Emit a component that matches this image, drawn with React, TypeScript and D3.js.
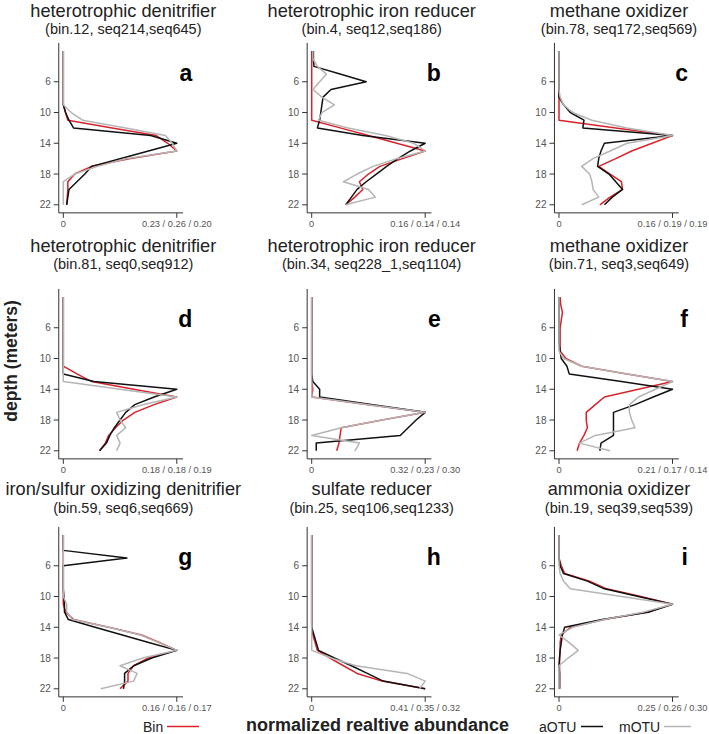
import React from "react";
import * as d3 from "d3";

// sampling depths (m)
const depths = [2, 3, 4, 5, 6, 7, 8, 9, 10, 11, 12, 13, 14, 15, 16, 17, 18, 19, 20, 21, 22];

const panelTitles = [
  "heterotrophic denitrifier",
  "heterotrophic iron reducer",
  "methane oxidizer",
  "heterotrophic denitrifier",
  "heterotrophic iron reducer",
  "methane oxidizer",
  "iron/sulfur oxidizing denitrifier",
  "sulfate reducer",
  "ammonia oxidizer",
];
const panelSubtitles = [
  "(bin.12, seq214,seq645)",
  "(bin.4, seq12,seq186)",
  "(bin.78, seq172,seq569)",
  "(bin.81, seq0,seq912)",
  "(bin.34, seq228_1,seq1104)",
  "(bin.71, seq3,seq649)",
  "(bin.59, seq6,seq669)",
  "(bin.25, seq106,seq1233)",
  "(bin.19, seq39,seq539)",
];
const panelLetters = ["a", "b", "c", "d", "e", "f", "g", "h", "i"];
const maxLabels = [
  "0.23 / 0.26 / 0.20",
  "0.16 / 0.14 / 0.14",
  "0.16 / 0.19 / 0.19",
  "0.18 / 0.18 / 0.19",
  "0.32 / 0.23 / 0.30",
  "0.21 / 0.17 / 0.14",
  "0.16 / 0.16 / 0.17",
  "0.41 / 0.35 / 0.32",
  "0.25 / 0.26 / 0.30",
];
const depthTicks = [6, 10, 14, 18, 22];

// abundance relative to each series' maximum, one value per depth
const binProfiles = [
  [0, 0, 0, 0, 0, 0, 0, 0, 0.02, 0.04, 0.43, 0.82, 0.92, 1, 0.58, 0.25, 0.1, 0.04, 0.04, 0.035, 0.03],
  [0, 0, 0, 0, 0, 0, 0, 0, 0, 0, 0.25, 0.5, 0.75, 1, 0.8, 0.6, 0.5, 0.42, 0.45, 0.38, 0.3],
  [0, 0, 0, 0, 0, 0, 0, 0, 0, 0, 0.5, 1, 0.82, 0.64, 0.5, 0.35, 0.45, 0.55, 0.56, 0.45, 0.36],
  [0, 0, 0, 0, 0, 0, 0, 0, 0, 0, 0.12, 0.25, 0.62, 1, 0.8, 0.63, 0.53, 0.46, 0.4, 0.37, 0.32],
  [0, 0, 0, 0, 0, 0, 0, 0, 0, 0, 0, 0, 0.01, 0, 0.5, 1, 0.62, 0.26, 0.25, 0.24, 0.22],
  [0.01, 0.015, 0.03, 0.02, 0.01, 0.01, 0.01, 0.01, 0.06, 0.2, 0.6, 1, 0.7, 0.4, 0.32, 0.24, 0.24, 0.25, 0.22, 0.18, 0.16],
  [0, 0, 0, 0, 0, 0, 0, 0, 0, 0, 0.02, 0.09, 0.4, 0.69, 0.85, 1, 0.75, 0.62, 0.57, 0.57, 0.5],
  [0, 0, 0, 0, 0, 0, 0, 0, 0, 0, 0, 0, 0, 0.01, 0.03, 0.05, 0.16, 0.28, 0.4, 0.62, 1],
  [0, 0, 0, 0, 0.02, 0.05, 0.27, 0.42, 0.72, 1, 0.78, 0.4, 0.1, 0.02, 0.01, 0.01, 0.005, 0.005, 0.005, 0.005, 0.005],
];
const aotuProfiles = [
  [0, 0, 0, 0, 0, 0, 0, 0, 0.02, 0.05, 0.09, 0.77, 1, 0.75, 0.5, 0.25, 0.19, 0.12, 0.05, 0.04, 0.03],
  [0.015, 0.015, 0.02, 0.25, 0.48, 0.17, 0.1, 0.09, 0.08, 0.07, 0.05, 0.45, 1, 0.87, 0.76, 0.66, 0.57, 0.48, 0.4, 0.35, 0.3],
  [0, 0, 0, 0, 0, 0, 0, 0.04, 0.1, 0.22, 0.21, 1, 0.4, 0.37, 0.35, 0.34, 0.44, 0.5, 0.56, 0.47, 0.4],
  [0, 0, 0, 0, 0, 0, 0, 0, 0, 0, 0, 0.27, 1, 0.8, 0.63, 0.55, 0.5, 0.45, 0.41, 0.38, 0.32],
  [0, 0, 0, 0, 0, 0, 0, 0, 0, 0, 0, 0.01, 0.07, 0.07, 0.54, 1, 0.92, 0.85, 0.78, 0.04, 0.04],
  [0, 0, 0, 0, 0, 0, 0, 0.01, 0.02, 0.07, 0.09, 0.55, 1, 0.83, 0.67, 0.48, 0.48, 0.48, 0.48, 0.37, 0.36],
  [0, 0, 0, 0.56, 0, 0, 0, 0, 0.005, 0.01, 0.01, 0.045, 0.28, 0.52, 0.76, 1, 0.78, 0.62, 0.54, 0.54, 0.53],
  [0, 0, 0, 0, 0, 0, 0, 0, 0, 0, 0, 0, 0, 0.02, 0.04, 0.06, 0.2, 0.35, 0.49, 0.63, 1],
  [0, 0, 0, 0, 0.01, 0.04, 0.25, 0.4, 0.7, 1, 0.8, 0.38, 0.05, 0.03, 0.02, 0.01, 0.005, 0, 0.005, 0.005, 0.005],
];
const motuProfiles = [
  [0, 0, 0, 0, 0, 0, 0, 0, 0.07, 0.17, 0.55, 0.9, 0.96, 1, 0.55, 0.3, 0.1, 0, 0, 0, 0],
  [0.01, 0.01, 0.05, 0.13, 0.07, 0.01, 0.09, 0.2, 0.09, 0.06, 0.32, 0.65, 0.9, 1, 0.75, 0.54, 0.4, 0.28, 0.5, 0.56, 0.3],
  [0, 0, 0, 0, 0, 0, 0.01, 0.04, 0.12, 0.29, 0.6, 1, 0.6, 0.45, 0.3, 0.2, 0.27, 0.29, 0.3, 0.35, 0.2],
  [0, 0, 0, 0, 0, 0, 0, 0, 0, 0, 0, 0, 0.5, 1, 0.7, 0.47, 0.5, 0.55, 0.47, 0.5, 0.47],
  [0, 0, 0, 0, 0, 0, 0, 0, 0, 0, 0, 0, 0, 0, 0.5, 1, 0.62, 0.26, 0, 0.42, 0.38],
  [0, 0, 0, 0, 0, 0, 0, 0, 0.04, 0.2, 0.6, 1, 0.85, 0.7, 0.62, 0.62, 0.64, 0.67, 0.32, 0.18, 0.45],
  [0, 0, 0, 0, 0, 0, 0, 0, 0, 0.03, 0.03, 0.08, 0.4, 0.68, 0.84, 1, 0.7, 0.5, 0.65, 0.62, 0.33],
  [0, 0, 0, 0, 0, 0, 0, 0, 0, 0, 0, 0, 0, 0, 0, 0, 0.17, 0.39, 0.84, 1, 0.95],
  [0, 0, 0, 0, 0, 0.01, 0.04, 0.1, 0.55, 1, 0.75, 0.4, 0.12, 0, 0.09, 0.17, 0.08, 0, 0, 0, 0],
];

const W = 709;
const H = 734;
const FONT = "'Liberation Sans', Arial, sans-serif";
const RED = "#d8232a";
const BLACK = "#111111";
const GRAY = "#b5b5b5";

const colX0 = [63.3, 311.7, 559];
const rowTop = [51, 297, 535];
const titleY = [16.5, 251.5, 495];
const subtitleY = [33.5, 268.5, 512.7];
const dataW = 113.5;
const depthH = 153.8;

const Panel = ({ i }: { i: number }) => {
  const col = i % 3;
  const row = Math.floor(i / 3);
  const x0 = colX0[col];
  const top = rowTop[row];
  const x = d3.scaleLinear().domain([0, 1]).range([x0, x0 + dataW]);
  const y = d3.scaleLinear().domain([2, 22]).range([top, top + depthH]);
  const line = d3
    .line<number>()
    .x((v) => x(v))
    .y((_, k) => y(depths[k]));

  const axisX = x(-0.04);
  const axisY = y(23.05);

  const series = [
    { values: binProfiles[i], color: RED },
    { values: aotuProfiles[i], color: BLACK },
    { values: motuProfiles[i], color: GRAY },
  ];

  return (
    <g>
      <text x={x0 + 60} y={titleY[row]} textAnchor="middle" fontSize={18.2} fill="#222">
        {panelTitles[i]}
      </text>
      <text x={x0 + 60} y={subtitleY[row]} textAnchor="middle" fontSize={14.5} fill="#222">
        {panelSubtitles[i]}
      </text>
      <text x={x0 + 129} y={y(6) - 1} textAnchor="end" fontSize={23} fontWeight="bold" fill="#000">
        {panelLetters[i]}
      </text>

      {/* axes */}
      <line x1={axisX} x2={axisX} y1={y(0.95)} y2={axisY} stroke="#333" strokeWidth={1} />
      <line x1={axisX} x2={x(1.055)} y1={axisY} y2={axisY} stroke="#333" strokeWidth={1} />
      {depthTicks.map((d) => (
        <g key={d}>
          <line x1={axisX - 5} x2={axisX} y1={y(d)} y2={y(d)} stroke="#333" strokeWidth={1} />
          <text x={axisX - 8} y={y(d)} dy="0.35em" textAnchor="end" fontSize={10} fill="#555">
            {d}
          </text>
        </g>
      ))}
      {[0, 1].map((v) => (
        <line key={v} x1={x(v)} x2={x(v)} y1={axisY} y2={axisY + 5} stroke="#333" strokeWidth={1} />
      ))}
      <text x={x(0)} y={axisY + 14.5} textAnchor="middle" fontSize={9.3} fill="#555">
        0
      </text>
      <text x={x(1)} y={axisY + 14.5} textAnchor="middle" fontSize={9.3} fill="#555">
        {maxLabels[i]}
      </text>

      {series.map((s, k) => (
        <path
          key={k}
          d={line(s.values) || ""}
          fill="none"
          stroke={s.color}
          strokeWidth={1.5}
          strokeLinejoin="round"
        />
      ))}
    </g>
  );
};

const App = () => {
  return (
    <svg
      width={W}
      height={H}
      style={{ position: "absolute", left: 0, top: 0, background: "#fff" }}
      fontFamily={FONT}
    >
      {panelLetters.map((_, i) => (
        <Panel key={i} i={i} />
      ))}

      <text
        transform={`translate(16.5, 361) rotate(-90)`}
        textAnchor="middle"
        fontSize={17.5}
        fontWeight="bold"
        fill="#222"
      >
        depth (meters)
      </text>
      <text x={377.5} y={731} textAnchor="middle" fontSize={18} fontWeight="bold" fill="#222">
        normalized realtive abundance
      </text>

      {/* legend */}
      <text x={143} y={731.5} fontSize={14} fill="#222">
        Bin
      </text>
      <line x1={167} x2={199} y1={726.5} y2={726.5} stroke={RED} strokeWidth={1.5} />
      <text x={539} y={731.5} fontSize={14} fill="#222">
        aOTU
      </text>
      <line x1={581} x2={603} y1={726.5} y2={726.5} stroke={BLACK} strokeWidth={1.5} />
      <text x={619} y={731.5} fontSize={14} fill="#222">
        mOTU
      </text>
      <line x1={664} x2={691} y1={726.5} y2={726.5} stroke={GRAY} strokeWidth={1.5} />
    </svg>
  );
};

export default App;
